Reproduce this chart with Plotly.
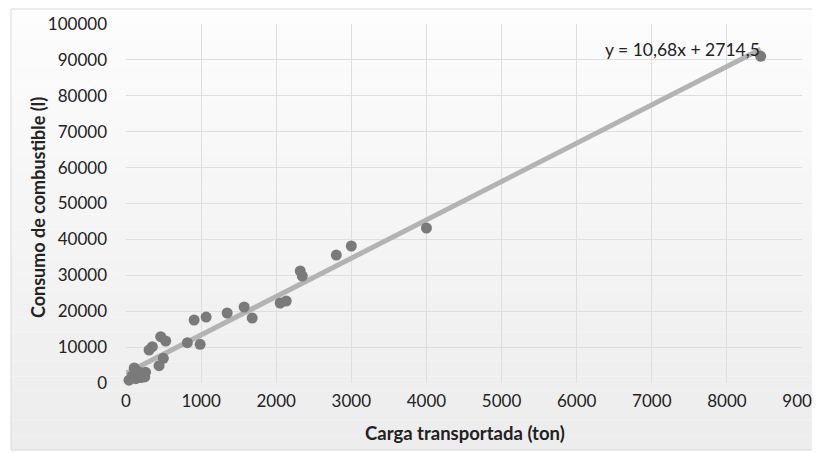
import plotly.graph_objects as go

carga = [40, 80, 110, 130, 150, 190, 200, 250, 260,
         307, 351, 440, 462, 497, 529,
         817, 987, 907, 1067, 1347, 1573, 1680,
         2053, 2133, 2320, 2347, 2800, 3000, 4000, 8450]
consumo = [800, 1900, 4200, 1200, 3300, 2900, 1500, 1700, 3000,
           9190, 10110, 4820, 12900, 6880, 11700,
           11230, 10780, 17550, 18380, 19500, 21170, 18100,
           22280, 22840, 31200, 29800, 35650, 38160, 43175, 91000]

slope, intercept = 10.68, 2714.5
trend_x = [0, max(carga)]
trend_y = [slope * v + intercept for v in trend_x]
equation = "y = 10,68x + 2714,5"
x_title = "Carga transportada (ton)"
y_title = "Consumo de combustible (l)"

x_ticks = list(range(0, 9001, 1000))
x_labels = [str(v) for v in x_ticks]
y_ticks = list(range(0, 100001, 10000))
y_labels = [str(v) for v in y_ticks]

fig = go.Figure()
fig.add_trace(go.Scatter(x=trend_x, y=trend_y, mode="lines",
                         line=dict(color="#b3b3b3", width=5), hoverinfo="skip", cliponaxis=False))
fig.add_trace(go.Scatter(x=carga, y=consumo, mode="markers", cliponaxis=False,
                         marker=dict(color="#7a7a7a", size=11)))

W, H = 820, 453
L, R, T, B = 118, 26, 16, 78
PW, PH = W - L - R, H - T - B


def px(fx):
    return (fx - L) / PW


def py(fy):
    return 1 - (fy - T) / PH


# chart-area frame (figure pixel coords)
x0p, x1p = px(3), px(810)
y1p, y0p = py(1), py(442)
shapes = []
n = 30
for i in range(n):
    t = i / (n - 1)
    c = int(253 - 16 * t)
    a = y1p - (y1p - y0p) * i / n
    b = y1p - (y1p - y0p) * (i + 1) / n
    shapes.append(dict(type="rect", xref="paper", yref="paper",
                       x0=x0p, x1=x1p, y0=b, y1=a,
                       fillcolor=f"rgb({c},{c},{c})", line=dict(width=0), layer="below"))
shapes.append(dict(type="rect", xref="paper", yref="paper",
                   x0=x0p, x1=x1p, y0=y0p, y1=y1p,
                   fillcolor="rgba(0,0,0,0)", line=dict(color="#d9d9d9", width=1), layer="below"))

fig.update_layout(
    width=W, height=H,
    margin=dict(l=L, r=R, t=T, b=B, autoexpand=False),
    paper_bgcolor="white", plot_bgcolor="rgba(0,0,0,0)",
    showlegend=False,
    shapes=shapes,
    font=dict(family="Lato, Open Sans, sans-serif", color="#222", size=17),
    xaxis=dict(range=[0, 9000], tickvals=x_ticks, ticktext=x_labels, showgrid=True, gridcolor="#dedede",
               zeroline=False, showline=False, ticks="", automargin=False, ticklabelstandoff=6),
    yaxis=dict(range=[0, 100000], tickvals=y_ticks, ticktext=y_labels, showgrid=True, gridcolor="#dedede",
               zeroline=False, showline=False, ticks="", ticklabelstandoff=18, automargin=False),
    annotations=[
        dict(x=7403, y=92800, xref="x", yref="y", text=equation, showarrow=False,
             xanchor="center", yanchor="middle", font=dict(size=17.5, color="#222")),
        dict(x=px(465 - 8), y=py(433 - 8), xref="paper", yref="paper", text=f"<b>{x_title}</b>",
             showarrow=False, xanchor="center", yanchor="middle", font=dict(size=18.5, color="#222")),
        dict(x=px(38 - 8), y=py(208 - 8), xref="paper", yref="paper", text=f"<b>{y_title}</b>",
             showarrow=False, xanchor="center", yanchor="middle", textangle=-90,
             font=dict(size=18, color="#222")),
    ],
)
fig.write_html("out.html")
